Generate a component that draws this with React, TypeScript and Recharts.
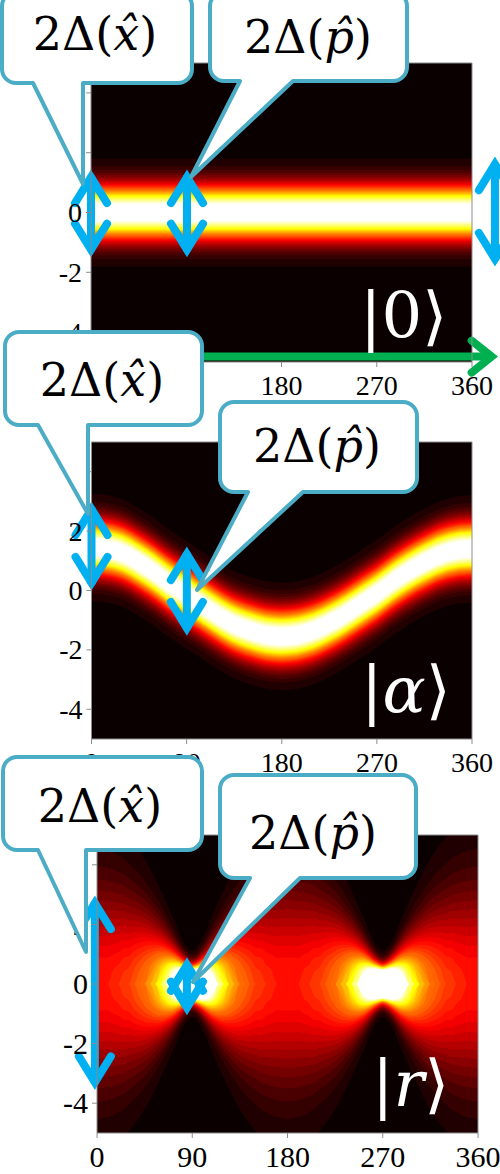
import { ComposedChart, Area, XAxis, YAxis, CartesianGrid, ReferenceLine } from 'recharts';

// phase angle (degrees) for |0> and |alpha>, every 15°
const phases = [0, 15, 30, 45, 60, 75, 90, 105, 120, 135, 150, 165, 180, 195, 210, 225, 240, 255, 270, 285, 300, 315, 330, 345, 360];
// phase angle for |r>, every 5°
const phasesFine = [
  0, 5, 10, 15, 20, 25, 30, 35, 40, 45, 50, 55, 60, 65, 70, 75, 80, 85, 90, 95, 100, 105, 110, 115, 120, 125, 130, 135, 140, 145, 150, 155, 160, 165, 170, 175, 180,
  185, 190, 195, 200, 205, 210, 215, 220, 225, 230, 235, 240, 245, 250, 255, 260, 265, 270, 275, 280, 285, 290, 295, 300, 305, 310, 315, 320, 325, 330, 335, 340, 345, 350, 355, 360,
];

// |0> : flat band around x = 0
const vacuumCentre = [0, 0, 0, 0, 0, 0, 0, 0, 0, 0, 0, 0, 0, 0, 0, 0, 0, 0, 0, 0, 0, 0, 0, 0, 0];
const vacuumWidth = [0.62, 0.62, 0.62, 0.62, 0.62, 0.62, 0.62, 0.62, 0.62, 0.62, 0.62, 0.62, 0.62, 0.62, 0.62, 0.62, 0.62, 0.62, 0.62, 0.62, 0.62, 0.62, 0.62, 0.62, 0.62];
const vacuumPeak = [1.1, 1.1, 1.1, 1.1, 1.1, 1.1, 1.1, 1.1, 1.1, 1.1, 1.1, 1.1, 1.1, 1.1, 1.1, 1.1, 1.1, 1.1, 1.1, 1.1, 1.1, 1.1, 1.1, 1.1, 1.1];

// |alpha> : same band, centre moves with phase
const coherentCentre = [1.45, 1.4, 1.25, 0.95, 0.6, 0.2, -0.15, -0.5, -0.85, -1.15, -1.35, -1.5, -1.55, -1.5, -1.35, -1.1, -0.8, -0.45, -0.1, 0.3, 0.65, 0.95, 1.2, 1.35, 1.4];
const coherentWidth = [0.62, 0.62, 0.62, 0.62, 0.62, 0.62, 0.62, 0.62, 0.62, 0.62, 0.62, 0.62, 0.62, 0.62, 0.62, 0.62, 0.62, 0.62, 0.62, 0.62, 0.62, 0.62, 0.62, 0.62, 0.62];
const coherentPeak = [1.1, 1.1, 1.1, 1.1, 1.1, 1.1, 1.1, 1.1, 1.1, 1.1, 1.1, 1.1, 1.1, 1.1, 1.1, 1.1, 1.1, 1.1, 1.1, 1.1, 1.1, 1.1, 1.1, 1.1, 1.1];

// |r> : narrow & bright at 90 / 270, broad & dim at 0 / 180 / 360
const squeezedCentre = [
  0, 0, 0, 0, 0, 0, 0, 0, 0, 0, 0, 0, 0, 0, 0, 0, 0, 0, 0, 0, 0, 0, 0, 0, 0, 0, 0, 0, 0, 0, 0, 0, 0, 0, 0, 0, 0,
  0, 0, 0, 0, 0, 0, 0, 0, 0, 0, 0, 0, 0, 0, 0, 0, 0, 0, 0, 0, 0, 0, 0, 0, 0, 0, 0, 0, 0, 0, 0, 0, 0, 0, 0, 0, 0,
];
const squeezedWidth = [
  2.2, 2.19, 2.17, 2.13, 2.07, 2.0, 1.91, 1.81, 1.7, 1.58, 1.44, 1.29, 1.14, 0.98, 0.82, 0.66, 0.51, 0.4, 0.35, 0.4, 0.51, 0.66, 0.82, 0.98, 1.14, 1.29, 1.44, 1.58, 1.7, 1.81, 1.91, 2.0, 2.07, 2.13, 2.17, 2.19, 2.2,
  2.19, 2.17, 2.13, 2.07, 2.0, 1.91, 1.81, 1.7, 1.58, 1.44, 1.29, 1.14, 0.98, 0.82, 0.66, 0.51, 0.4, 0.35, 0.4, 0.51, 0.66, 0.82, 0.98, 1.14, 1.29, 1.44, 1.58, 1.7, 1.81, 1.91, 2.0, 2.07, 2.13, 2.17, 2.19, 2.2,
];
const squeezedPeak = [
  0.39, 0.39, 0.39, 0.4, 0.41, 0.43, 0.44, 0.47, 0.5, 0.54, 0.59, 0.66, 0.75, 0.87, 1.04, 1.28, 1.65, 2.14, 2.43, 2.14, 1.65, 1.28, 1.04, 0.87, 0.75, 0.66, 0.59, 0.54, 0.5, 0.47, 0.44, 0.43, 0.41, 0.4, 0.39, 0.39, 0.39,
  0.39, 0.39, 0.4, 0.41, 0.43, 0.44, 0.47, 0.5, 0.54, 0.59, 0.66, 0.75, 0.87, 1.04, 1.28, 1.65, 2.14, 2.43, 2.14, 1.65, 1.28, 1.04, 0.87, 0.75, 0.66, 0.59, 0.54, 0.5, 0.47, 0.44, 0.43, 0.41, 0.4, 0.39, 0.39, 0.39,
];

const xTicks = [0, 90, 180, 270, 360];
const yTicks = [-4, -2, 0, 2, 4];

// colour scale thresholds (hot colormap, 32 steps)
const LEVELS = Array.from({ length: 32 }, (_, k) => (k + 0.5) / 32);

function hot(v: number) {
  const i = 1 + Math.round(Math.min(1, Math.max(0, v)) * 63);
  const r = Math.min(1, i / 24);
  const g = Math.min(1, Math.max(0, (i - 24) / 24));
  const b = Math.max(0, (i - 48) / 16);
  return `rgb(${Math.round(r * 255)},${Math.round(g * 255)},${Math.round(b * 255)})`;
}

function buildBands(theta: number[], centre: number[], width: number[], peak: number[]) {
  return theta.map((t, i) => {
    const row: any = { theta: t };
    LEVELS.forEach((L, k) => {
      const w = peak[i] > L ? width[i] * Math.sqrt(2 * Math.log(peak[i] / L)) : 0;
      row['b' + k] = [centre[i] - w, centre[i] + w];
    });
    return row;
  });
}

const ARROW_BLUE = '#00B0F0';
const ARROW_GREEN = '#00B050';
const CALLOUT = '#4BACC6';
const SERIF = '"Liberation Serif", "Times New Roman", serif';
const MATH = '"DejaVu Serif", serif';

function ArrowShape(p: any) {
  const { x1, y1, x2, y2, color, both } = p;
  const lw = 8;
  const headLen = p.headLen ?? 26;
  const headHalf = p.headHalf ?? 16;
  const dx = x2 - x1, dy = y2 - y1;
  const len = Math.hypot(dx, dy) || 1;
  const ux = dx / len, uy = dy / len;
  const nx = -uy, ny = ux;
  const miter = (lw / 2) * Math.hypot(headLen, headHalf) / headHalf;
  const head = (tx: number, ty: number, sx: number, sy: number) => {
    const ax = tx - sx * miter, ay = ty - sy * miter;
    return `M${ax - sx * headLen + nx * headHalf},${ay - sy * headLen + ny * headHalf} L${ax},${ay} L${ax - sx * headLen - nx * headHalf},${ay - sy * headLen - ny * headHalf}`;
  };
  const inset = miter * 0.8;
  const sx = both ? x1 + ux * inset : x1;
  const sy = both ? y1 + uy * inset : y1;
  return (
    <g>
      <line x1={sx} y1={sy} x2={x2 - ux * inset} y2={y2 - uy * inset} stroke={color} strokeWidth={lw} />
      <path d={head(x2, y2, ux, uy)} fill="none" stroke={color} strokeWidth={lw} strokeLinecap="round" strokeLinejoin="miter" strokeMiterlimit={10} />
      {both && (
        <path d={head(x1, y1, -ux, -uy)} fill="none" stroke={color} strokeWidth={lw} strokeLinecap="round" strokeLinejoin="miter" strokeMiterlimit={10} />
      )}
    </g>
  );
}

function makeTick(axis: 'x' | 'y', fontSize: number, hidden: number[]) {
  return (props: any) => {
    const { x, y, payload } = props;
    if (hidden.includes(payload.value)) return <g />;
    if (axis === 'x') {
      return (
        <text x={x} y={y + fontSize * 0.7} textAnchor="middle" fontSize={fontSize} fontFamily={SERIF} fill="#000">
          {payload.value}
        </text>
      );
    }
    return (
      <text x={x} y={y + fontSize * 0.34} textAnchor="end" fontSize={fontSize} fontFamily={SERIF} fill="#000">
        {payload.value}
      </text>
    );
  };
}

interface ArrowSpec { theta: number; from: number; to: number; color: string; both: boolean; theta2?: number; headLen?: number; headHalf?: number }

interface PanelProps {
  top: number;
  plot: { top: number; bottom: number; left: number; right: number };
  table: any[];
  arrows: ArrowSpec[];
  fontSize: number;
  hideX: number[];
  hideY: number[];
}

const AXIS = '#8c8c8c';
const H = 410;

function Panel({ top, plot, table, arrows, fontSize, hideX, hideY }: PanelProps) {
  const margin = {
    top: plot.top - top - 10,
    bottom: top + H - plot.bottom - 40,
    left: plot.left - 60,
    right: 500 - plot.right - 10,
  };
  const used = LEVELS.map((_, k) => table.some((r) => r['b' + k][1] - r['b' + k][0] > 1e-6));
  return (
    <div style={{ position: 'absolute', left: 0, top, width: 500, height: H }}>
      <ComposedChart width={500} height={H} data={table} margin={margin}>
        <CartesianGrid fill={hot(0)} horizontal={false} vertical={false} stroke="none" />
        <XAxis dataKey="theta" type="number" domain={[0, 360]} ticks={xTicks} interval={0} allowDataOverflow
          height={40} tickSize={5} tickMargin={8} axisLine={{ stroke: AXIS }} tickLine={{ stroke: AXIS }}
          tick={makeTick('x', fontSize, hideX)} />
        <XAxis xAxisId="top" orientation="top" type="number" domain={[0, 360]} ticks={xTicks} interval={0} allowDataOverflow
          height={10} tickSize={5} axisLine={{ stroke: AXIS }} tickLine={{ stroke: AXIS }} tick={false} />
        <YAxis type="number" domain={[-5, 5]} ticks={yTicks} interval={0} allowDataOverflow width={60}
          tickSize={5} tickMargin={4} axisLine={{ stroke: AXIS }} tickLine={{ stroke: AXIS }}
          tick={makeTick('y', fontSize, hideY)} />
        <YAxis yAxisId="right" orientation="right" type="number" domain={[-5, 5]} ticks={yTicks} interval={0} allowDataOverflow width={10}
          tickSize={5} axisLine={{ stroke: AXIS }} tickLine={{ stroke: AXIS }} tick={false} />
        {LEVELS.map((_, k) =>
          used[k] ? (
            <Area key={k} dataKey={'b' + k} type="monotone" stroke="none" fill={hot((k + 1) / 32)} fillOpacity={1}
              dot={false} activeDot={false} isAnimationActive={false} />
          ) : null
        )}
        {arrows.map((a, i) => (
          <ReferenceLine key={'a' + i} ifOverflow="visible"
            segment={[{ x: a.theta, y: a.from }, { x: a.theta2 ?? a.theta, y: a.to }]}
            shape={(p: any) => <ArrowShape {...p} color={a.color} both={a.both} headLen={a.headLen} headHalf={a.headHalf} />} />
        ))}
      </ComposedChart>
    </div>
  );
}

// callout boxes: box + tail (baseL, tipX, tipY, baseR) in page pixels
const callouts = [
  { x: 2, y: -8, w: 190, h: 91, tail: [33, 83, 184, 83], tx: 95, ty: 50, sym: 'x' },
  { x: 210, y: -8, w: 197, h: 89, tail: [240, 191, 177, 293], tx: 308, ty: 53, sym: 'p' },
  { x: 5, y: 332, w: 197, h: 93, tail: [38, 88, 514, 88], tx: 102, ty: 396, sym: 'x' },
  { x: 220, y: 402, w: 197, h: 90, tail: [248, 197, 590, 303], tx: 317, ty: 462, sym: 'p' },
  { x: 3, y: 757, w: 199, h: 93, tail: [38, 86, 952, 86], tx: 100, ty: 822, sym: 'x' },
  { x: 220, y: 775, w: 196, h: 103, tail: [250, 193, 982, 300], tx: 313, ty: 849, sym: 'p' },
];

function calloutPath(c: any) {
  const r = 14;
  const { x, y, w, h } = c;
  const [baseL, tipX, tipY, baseR] = c.tail;
  const R = x + w, B = y + h;
  return `M${x + r},${y} H${R - r} A${r},${r} 0 0 1 ${R},${y + r} V${B - r} A${r},${r} 0 0 1 ${R - r},${B} H${baseR} L${tipX},${tipY} L${baseL},${B} H${x + r} A${r},${r} 0 0 1 ${x},${B - r} V${y + r} A${r},${r} 0 0 1 ${x + r},${y} Z`;
}

const stateLabels = [
  { x: 360, y: 338, sym: '0', italic: false },
  { x: 361, y: 712, sym: 'α', italic: true },
  { x: 372, y: 1106, sym: 'r', italic: true },
];

export default function App() {
  const vacuumArrows: ArrowSpec[] = [
    { theta: 40, from: -4.82, to: -4.82, theta2: 384.6, color: ARROW_GREEN, both: false, headLen: 20, headHalf: 16 },
    { theta: 0, from: -1.5, to: 1.44, color: ARROW_BLUE, both: true },
    { theta: 90.7, from: -1.5, to: 1.44, color: ARROW_BLUE, both: true },
    { theta: 381.7, from: -1.81, to: 1.87, color: ARROW_BLUE, both: true },
  ];
  const coherentArrows: ArrowSpec[] = [
    { theta: 0, from: 0, to: 3.0, color: ARROW_BLUE, both: true },
    { theta: 90.2, from: -1.52, to: 1.48, color: ARROW_BLUE, both: true },
  ];
  const squeezedArrows: ArrowSpec[] = [
    { theta: -2, from: -3.56, to: 2.97, color: ARROW_BLUE, both: true },
    { theta: 85, from: -1.05, to: 0.9, color: ARROW_BLUE, both: true },
  ];
  return (
    <div style={{ position: 'absolute', left: 0, top: 0, width: 500, height: 1174, background: '#fff', overflow: 'hidden' }}>
      <Panel top={0} plot={{ top: 63, bottom: 362, left: 91, right: 472 }} fontSize={28} hideX={[0, 90]} hideY={[2, 4]}
        table={buildBands(phases, vacuumCentre, vacuumWidth, vacuumPeak)} arrows={vacuumArrows} />
      <Panel top={380} plot={{ top: 442, bottom: 739, left: 91.5, right: 472 }} fontSize={28} hideX={[]} hideY={[4]}
        table={buildBands(phases, coherentCentre, coherentWidth, coherentPeak)} arrows={coherentArrows} />
      <Panel top={764} plot={{ top: 835, bottom: 1133, left: 97, right: 478 }} fontSize={30} hideX={[]} hideY={[4]}
        table={buildBands(phasesFine, squeezedCentre, squeezedWidth, squeezedPeak)} arrows={squeezedArrows} />
      <svg width={500} height={1174} style={{ position: 'absolute', left: 0, top: 0, pointerEvents: 'none' }}>
        {callouts.map((c, i) => (
          <g key={i}>
            <path d={calloutPath(c)} fill="#fff" stroke={CALLOUT} strokeWidth={4} strokeLinejoin="round" />
            <text x={c.tx} y={c.ty} textAnchor="middle" fontSize={46} fill="#000" fontFamily={MATH}>
              2Δ(<tspan fontStyle="italic">{c.sym + '\u0302'}</tspan>)
            </text>
          </g>
        ))}
        {stateLabels.map((s, i) => (
          <text key={'s' + i} x={s.x} y={s.y} fontSize={64} fill="#fff" fontFamily={MATH}>
            |<tspan fontStyle={s.italic ? 'italic' : 'normal'}>{s.sym}</tspan>⟩
          </text>
        ))}
      </svg>
    </div>
  );
}
